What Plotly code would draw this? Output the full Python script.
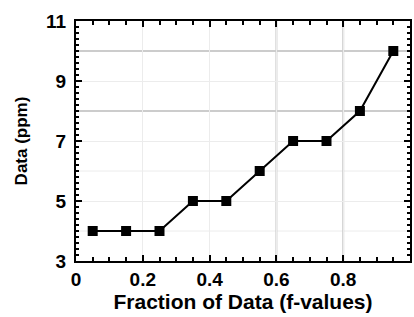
import plotly.graph_objects as go

# Data
x_vals = [0.05, 0.15, 0.25, 0.35, 0.45, 0.55, 0.65, 0.75, 0.85, 0.95]
y_vals = [4, 4, 4, 5, 5, 6, 7, 7, 8, 10]
x_tickvals = [0, 0.2, 0.4, 0.6, 0.8, 1]
x_ticktext = ["0", "0.2", "0.4", "0.6", "0.8", "1"]
y_tickvals = [3, 5, 7, 9, 11]
y_ticktext = ["3", "5", "7", "9", "11"]
light_grid_y = [4, 6]
dark_grid_x = [0.6, 0.8]
dark_grid_y = [8, 10]

fig = go.Figure()
fig.add_trace(go.Scatter(
    x=x_vals, y=y_vals, mode="lines+markers",
    line=dict(color="black", width=2),
    marker=dict(symbol="square", size=10, color="black"),
    showlegend=False, cliponaxis=False,
))

shapes = []
for yv in light_grid_y:
    shapes.append(dict(type="line", xref="paper", yref="y", x0=0, x1=1, y0=yv, y1=yv,
                       line=dict(color="#ececec", width=1), layer="between"))
for xv in dark_grid_x:
    shapes.append(dict(type="line", xref="x", yref="paper", x0=xv, x1=xv, y0=0, y1=1,
                       line=dict(color="#cccccc", width=2), layer="between"))
for yv in dark_grid_y:
    shapes.append(dict(type="line", xref="paper", yref="y", x0=0, x1=1, y0=yv, y1=yv,
                       line=dict(color="#cccccc", width=2), layer="between"))

font_family = "Liberation Sans, Arial, sans-serif"
axis_common = dict(
    showline=True, linecolor="black", linewidth=2, mirror="ticks",
    ticks="inside", tickcolor="black", ticklen=6, tickwidth=2,
    showgrid=True, gridcolor="#ececec", gridwidth=1, zeroline=False,
    tickfont=dict(family=font_family, size=19, color="black", weight="bold"),
)

fig.update_layout(
    width=414, height=317,
    margin=dict(l=76, r=2, t=21, b=56),
    plot_bgcolor="white", paper_bgcolor="white",
    shapes=shapes,
    xaxis=dict(
        range=[0, 1], tickvals=x_tickvals, ticktext=x_ticktext,
        minor=dict(dtick=0.05, ticks="inside", ticklen=4, tickcolor="black", tickwidth=1.5, showgrid=False),
        title=dict(text="Fraction of Data (f-values)", standoff=4,
                   font=dict(family=font_family, size=21, color="black", weight="bold")),
        **axis_common,
    ),
    yaxis=dict(
        range=[3, 11], tickvals=y_tickvals, ticktext=y_ticktext,
        ticklabelstandoff=4,
        minor=dict(dtick=0.2, ticks="inside", ticklen=3, tickcolor="black", tickwidth=1.5, showgrid=False),
        title=dict(text="Data (ppm)", standoff=14,
                   font=dict(family=font_family, size=17, color="black", weight="bold")),
        **axis_common,
    ),
)

fig.write_html("out.html", config={"displayModeBar": False},
               post_script="document.body.style.margin='0';document.body.style.overflow='hidden';")
